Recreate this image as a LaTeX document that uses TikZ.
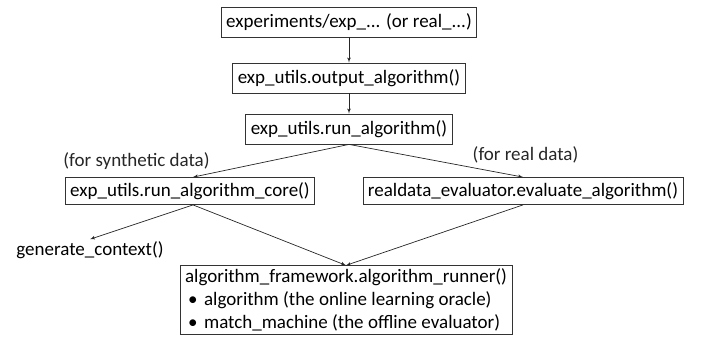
\documentclass[tikz,border=0pt]{standalone}
\usepackage{fontspec}
\setmainfont{Carlito}
\usetikzlibrary{arrows}
\usetikzlibrary{positioning}

\begin{document}
\begin{tikzpicture}[auto, x = 1pt, y = 1pt, > = latex', font = \fontsize{19}{23}\selectfont]
\tikzset{
  block/.style = {draw = black!80, line width = 0.8pt, fill = white, rectangle, minimum height = 30pt, inner xsep = 5pt},
  plain/.style = {inner sep = 2pt},
  link/.style = {->, line width = 0.7pt, black!85},
}
\useasboundingbox (0,0) rectangle (704,-339);
\node [block] (experiments) at (349,-22) {experiments/exp\_... (or real\_...)};
\node [block, below of = experiments, node distance = 56pt] (outputAlgorithm) {exp\_utils.output\_algorithm()};
\node [block, below of = outputAlgorithm, node distance = 51pt] (runAlgorithm) {exp\_utils.run\_algorithm()};
\node [block, minimum height = 27pt] (runCore) at (190,-191) {exp\_utils.run\_algorithm\_core()};
\node [block, minimum height = 27pt] (evaluate) at (523,-191) {realdata\_evaluator.evaluate\_algorithm()};
\node [plain] (generateContext) at (90,-250) {generate\_context()};
\node [block, align = left, inner ysep = 3pt] (runner) at (346,-300) {algorithm\_framework.algorithm\_runner()\\
  \makebox[19pt][l]{\hspace{3pt}\textbullet}algorithm (the online learning oracle)\\
  \makebox[19pt][l]{\hspace{3pt}\textbullet}match\_machine (the offline evaluator)};
\draw [link] (experiments) -- (outputAlgorithm);
\draw [link] (outputAlgorithm) -- (runAlgorithm);
\draw [link] (runAlgorithm.south) -- node [pos = 0.87, above left, swap] {(for synthetic data)} ([xshift = 3pt]runCore.north);
\draw [link] (runAlgorithm.south) -- node [pos = 0.69, above right] {(for real data)} (evaluate.north);
\draw [link] ([xshift = 3pt]runCore.south) -- (generateContext.north);
\draw [link] ([xshift = 3pt]runCore.south) -- (runner.north);
\draw [link] (evaluate.south) -- (runner.north);
\end{tikzpicture}
\end{document}
